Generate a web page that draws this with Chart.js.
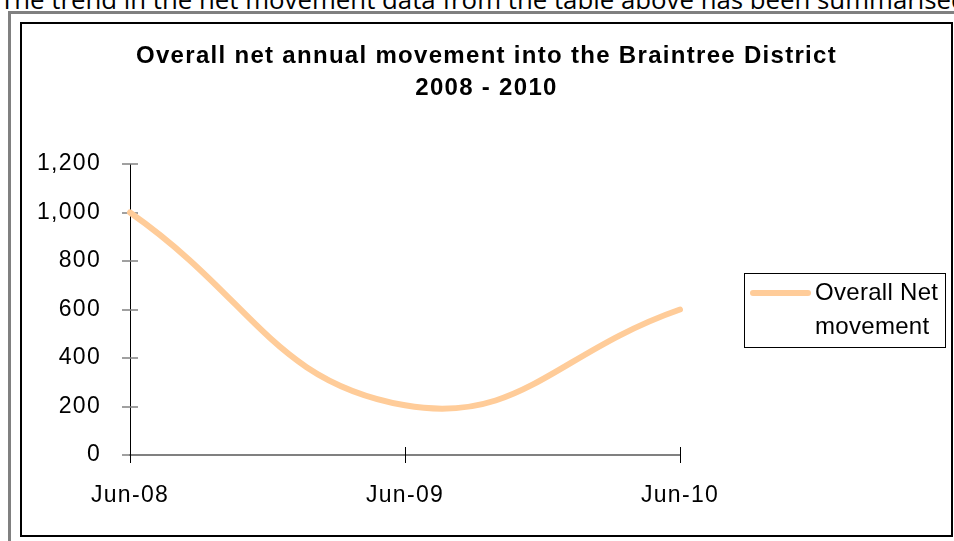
<!DOCTYPE html>
<html>
<head>
<meta charset="utf-8">
<script src="https://cdn.jsdelivr.net/npm/chart.js@4.4.1/dist/chart.umd.min.js"></script>
<style>
  html, body { margin: 0; padding: 0; background: #fff; }
  body { width: 954px; height: 541px; overflow: hidden; position: relative; }
  #intro {
    position: absolute; left: 0; top: -14px;
    font-family: 'Open Sans', sans-serif; font-size: 25.8px; line-height: 26px;
    white-space: nowrap; color: #000;
  }
  #outer {
    position: absolute; left: 8px; top: 11px; width: 960px; height: 560px;
    border-left: 3px solid #808080; border-top: 3px solid #808080;
  }
  #frame {
    position: absolute; left: 20px; top: 22px; width: 929px; height: 511px;
    border: 2px solid #000;
  }
  #frame canvas { display: block; }
</style>
</head>
<body>
<div id="intro">The trend in the net movement data from the table above has been summarised below.</div>
<div id="outer"></div>
<div id="frame"><canvas id="movementChart" width="929" height="511"></canvas></div>
<script>
const months = ['Jun-08', 'Jun-09', 'Jun-10'];
const netMovement = [1000, 205, 600];
const seriesName = ['Overall Net', 'movement'];
const chartTitle = ['Overall net annual movement into the Braintree District', '2008 - 2010'];
const yMin = 0;
const yMax = 1200;
const yStep = 200;

const FONT = "'Liberation Sans', Arial, sans-serif";
Chart.defaults.font.family = FONT;
Chart.defaults.color = '#000';

// slightly spaced-out lettering for title and axis labels
const spacedText = {
  id: 'spacedText',
  beforeDraw(chart) {
    chart.ctx.letterSpacing = '1.3px';
  },
  beforeDatasetsDraw(chart) {
    chart.ctx.letterSpacing = '0px';
  }
};

// tick marks that cross the axis line on both sides
const crossTicks = {
  id: 'crossTicks',
  beforeDatasetsDraw(chart) {
    const {ctx, scales: {x, y}} = chart;
    ctx.save();
    ctx.lineWidth = 1.5;
    ctx.strokeStyle = '#808080';
    y.ticks.forEach((t, i) => {
      const py = Math.round(y.getPixelForTick(i));
      ctx.beginPath();
      ctx.moveTo(y.right - 8, py);
      ctx.lineTo(y.right + 8, py);
      ctx.stroke();
    });
    ctx.lineWidth = 1;
    ctx.strokeStyle = '#000';
    x.ticks.forEach((t, i) => {
      const px = Math.round(x.getPixelForTick(i)) + 0.5;
      ctx.beginPath();
      ctx.moveTo(px, x.top - 8);
      ctx.lineTo(px, x.top + 8);
      ctx.stroke();
    });
    ctx.restore();
  }
};

// boxed legend on the right, label split over two lines
const boxLegend = {
  id: 'boxLegend',
  afterDraw(chart) {
    const {ctx, chartArea} = chart;
    const ds = chart.data.datasets[0];
    const lines = ds.label;
    ctx.save();
    ctx.font = '24px ' + FONT;
    ctx.letterSpacing = '0.3px';
    const textW = Math.max(...lines.map(l => ctx.measureText(l).width));
    const pad = 7, sample = 59, gap = 5, lineH = 34;
    const w = Math.round(pad + sample + gap + textW + pad);
    const h = lines.length * lineH + 6;
    const left = chart.width - 6 - w;
    const top = Math.round((chartArea.top + chartArea.bottom) / 2 - h / 2);
    ctx.fillStyle = '#fff';
    ctx.fillRect(left, top, w, h);
    ctx.lineWidth = 1;
    ctx.strokeStyle = '#000';
    ctx.strokeRect(left + 0.5, top + 0.5, w, h);
    const y0 = top + 3 + lineH / 2;
    ctx.strokeStyle = ds.borderColor;
    ctx.lineWidth = ds.borderWidth;
    ctx.lineCap = 'round';
    ctx.beginPath();
    ctx.moveTo(left + pad + 2, y0);
    ctx.lineTo(left + pad + sample - 2, y0);
    ctx.stroke();
    ctx.fillStyle = '#000';
    ctx.textBaseline = 'middle';
    ctx.textAlign = 'left';
    lines.forEach((l, i) => ctx.fillText(l, left + pad + sample + gap, y0 + i * lineH));
    ctx.restore();
  }
};

new Chart(document.getElementById('movementChart'), {
  type: 'line',
  data: {
    labels: months,
    datasets: [{
      label: seriesName,
      data: netMovement,
      borderColor: '#FFCC99',
      borderWidth: 6,
      borderCapStyle: 'round',
      tension: 0.45,
      pointRadius: 0,
      fill: false,
      clip: false
    }]
  },
  options: {
    responsive: false,
    animation: false,
    devicePixelRatio: 1,
    locale: 'en-US',
    layout: { padding: 0 },
    plugins: {
      legend: { display: false },
      tooltip: { enabled: false },
      title: {
        display: true,
        text: chartTitle,
        color: '#000',
        font: { size: 24, weight: 'bold', lineHeight: 32 / 24 },
        padding: { top: 16, bottom: 60 }
      }
    },
    scales: {
      x: {
        offset: false,
        grid: { display: true, drawOnChartArea: false, drawTicks: true, tickLength: 8, color: 'rgba(0,0,0,0)' },
        border: { display: true, color: '#808080', width: 2 },
        ticks: { font: { size: 23 }, padding: 19, maxRotation: 0, autoSkip: false },
        afterFit(scale) {
          scale.height = 80;
          scale.paddingRight = 271;
        }
      },
      y: {
        min: yMin,
        max: yMax,
        grid: { display: true, drawOnChartArea: false, drawTicks: true, tickLength: 8, color: 'rgba(0,0,0,0)' },
        border: { display: true, color: '#000', width: 1 },
        ticks: { stepSize: yStep, font: { size: 23 }, padding: 21 },
        afterFit(scale) {
          scale.width = 108;
        }
      }
    }
  },
  plugins: [spacedText, crossTicks, boxLegend]
});
</script>
</body>
</html>
